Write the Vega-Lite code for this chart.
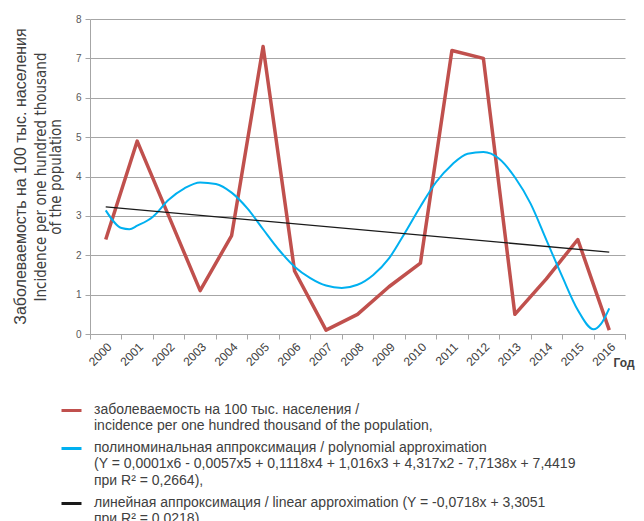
{
  "$schema": "https://vega.github.io/schema/vega-lite/v6.json",
  "width": 535,
  "height": 315,
  "autosize": {"type": "none"},
  "padding": {"left": 90, "top": 19, "right": 19, "bottom": 187},
  "background": "white",
  "title": {
    "text": "Заболеваемость на 100 тыс. населения",
    "orient": "left",
    "anchor": "middle",
    "font": "Liberation Sans",
    "fontSize": 16,
    "fontWeight": "normal",
    "color": "#404040",
    "offset": 4
  },
  "config": {
    "view": {"stroke": null},
    "axis": {"labelFont": "Liberation Sans", "titleFont": "Liberation Sans"}
  },
  "datasets": {
    "incidence": [
      {"year": "2000", "value": 2.4, "series": "incidence"},
      {"year": "2001", "value": 4.9, "series": "incidence"},
      {"year": "2002", "value": 3.0, "series": "incidence"},
      {"year": "2003", "value": 1.1, "series": "incidence"},
      {"year": "2004", "value": 2.5, "series": "incidence"},
      {"year": "2005", "value": 7.3, "series": "incidence"},
      {"year": "2006", "value": 1.6, "series": "incidence"},
      {"year": "2007", "value": 0.1, "series": "incidence"},
      {"year": "2008", "value": 0.5, "series": "incidence"},
      {"year": "2009", "value": 1.2, "series": "incidence"},
      {"year": "2010", "value": 1.8, "series": "incidence"},
      {"year": "2011", "value": 7.2, "series": "incidence"},
      {"year": "2012", "value": 7.0, "series": "incidence"},
      {"year": "2013", "value": 0.5, "series": "incidence"},
      {"year": "2014", "value": 1.4, "series": "incidence"},
      {"year": "2015", "value": 2.4, "series": "incidence"},
      {"year": "2016", "value": 0.1, "series": "incidence"}
    ],
    "poly": [
      {"t": 2000, "value": 3.14, "series": "polynomial"},
      {"t": 2000.5, "value": 2.69, "series": "polynomial"},
      {"t": 2000.75, "value": 2.66, "series": "polynomial"},
      {"t": 2001, "value": 2.75, "series": "polynomial"},
      {"t": 2001.5, "value": 2.98, "series": "polynomial"},
      {"t": 2002, "value": 3.41, "series": "polynomial"},
      {"t": 2002.5, "value": 3.7, "series": "polynomial"},
      {"t": 2003, "value": 3.85, "series": "polynomial"},
      {"t": 2003.5, "value": 3.81, "series": "polynomial"},
      {"t": 2004, "value": 3.59, "series": "polynomial"},
      {"t": 2004.5, "value": 3.19, "series": "polynomial"},
      {"t": 2005, "value": 2.66, "series": "polynomial"},
      {"t": 2005.5, "value": 2.14, "series": "polynomial"},
      {"t": 2006, "value": 1.71, "series": "polynomial"},
      {"t": 2006.5, "value": 1.42, "series": "polynomial"},
      {"t": 2007, "value": 1.23, "series": "polynomial"},
      {"t": 2007.5, "value": 1.17, "series": "polynomial"},
      {"t": 2008, "value": 1.25, "series": "polynomial"},
      {"t": 2008.5, "value": 1.5, "series": "polynomial"},
      {"t": 2009, "value": 1.92, "series": "polynomial"},
      {"t": 2009.5, "value": 2.56, "series": "polynomial"},
      {"t": 2010, "value": 3.24, "series": "polynomial"},
      {"t": 2010.5, "value": 3.86, "series": "polynomial"},
      {"t": 2011, "value": 4.3, "series": "polynomial"},
      {"t": 2011.5, "value": 4.58, "series": "polynomial"},
      {"t": 2012, "value": 4.62, "series": "polynomial"},
      {"t": 2012.5, "value": 4.45, "series": "polynomial"},
      {"t": 2013, "value": 3.98, "series": "polynomial"},
      {"t": 2013.5, "value": 3.31, "series": "polynomial"},
      {"t": 2014, "value": 2.39, "series": "polynomial"},
      {"t": 2014.5, "value": 1.47, "series": "polynomial"},
      {"t": 2015, "value": 0.61, "series": "polynomial"},
      {"t": 2015.5, "value": 0.12, "series": "polynomial"},
      {"t": 2015.75, "value": 0.27, "series": "polynomial"},
      {"t": 2016, "value": 0.65, "series": "polynomial"}
    ],
    "linear": [
      {"t": 2000, "value": 3.23, "series": "linear"},
      {"t": 2016, "value": 2.08, "series": "linear"}
    ]
  },
  "encoding": {
    "y": {
      "field": "value",
      "type": "quantitative",
      "scale": {"domain": [0, 8], "nice": false},
      "axis": {
        "values": [0, 1, 2, 3, 4, 5, 6, 7, 8],
        "labelOverlap": false,
        "title": ["Incidence per one hundred thousand", "of the population"],
        "titleFont": "Liberation Sans Narrow, Arial Narrow, DejaVu Sans Condensed, Liberation Sans",
        "titleFontSize": 15,
        "titleFontWeight": "normal",
        "titleColor": "#404040",
        "titleLineHeight": 15,
        "titlePadding": 12,
        "grid": true,
        "gridColor": "#A6A6A6",
        "domainColor": "#A6A6A6",
        "tickColor": "#A6A6A6",
        "tickSize": 5,
        "labelFontSize": 10,
        "labelColor": "#595959",
        "labelPadding": 4
      }
    },
    "color": {
      "field": "series",
      "type": "nominal",
      "scale": {
        "domain": ["incidence", "polynomial", "linear"],
        "range": ["#C0504D", "#00B0F0", "#1A1A1A"]
      },
      "legend": {
        "orient": "none",
        "legendX": -30,
        "legendY": 380,
        "direction": "vertical",
        "title": null,
        "symbolType": "stroke",
        "symbolSize": 400,
        "symbolStrokeWidth": 3,
        "labelFont": "Liberation Sans",
        "labelFontSize": 14,
        "labelColor": "#404040",
        "labelLimit": 800,
        "labelOffset": 11,
        "labelBaseline": "top",
        "rowPadding": 4,
        "padding": 0,
        "labelExpr": "datum.label == 'incidence' ? ['заболеваемость на 100 тыс. населения /', 'incidence per one hundred thousand of the population,'] : datum.label == 'polynomial' ? ['полиноминальная аппроксимация / polynomial approximation', '(Y = 0,0001x6 - 0,0057x5 + 0,1118x4 + 1,016x3 + 4,317x2 - 7,7138x + 7,4419', 'при R² = 0,2664),'] : ['линейная аппроксимация / linear approximation (Y = -0,0718x + 3,3051', 'при R² = 0,0218)']",
        "encode": {
          "labels": {"update": {"dy": {"value": -8}, "lineHeight": {"value": 16.5}}}
        }
      }
    }
  },
  "layer": [
    {
      "data": {"name": "incidence"},
      "mark": {"type": "line", "strokeWidth": 3.5, "strokeJoin": "round"},
      "encoding": {
        "x": {
          "field": "year",
          "type": "ordinal",
          "bandPosition": 0.5,
          "scale": {"type": "band", "paddingInner": 0, "paddingOuter": 0},
          "axis": {
            "title": "Год",
            "titleFontWeight": "bold",
            "titleFontSize": 12,
            "titleColor": "#404040",
            "titleAngle": 0,
            "titleAlign": "left",
            "titleBaseline": "middle",
            "titleX": 523,
            "titleY": 28,
            "tickBand": "extent",
            "domainColor": "#A6A6A6",
            "tickColor": "#A6A6A6",
            "tickSize": 5,
            "labelAngle": -45,
            "labelAlign": "right",
            "labelBaseline": "top",
            "labelFontSize": 12,
            "labelColor": "#404040",
            "labelPadding": 2,
            "grid": false
          }
        }
      }
    },
    {
      "data": {"name": "poly"},
      "mark": {"type": "line", "strokeWidth": 2, "interpolate": "monotone"},
      "encoding": {
        "x": {"field": "t", "type": "quantitative", "scale": {"domain": [1999.5, 2016.5], "nice": false, "zero": false}, "axis": null}
      }
    },
    {
      "data": {"name": "linear"},
      "mark": {"type": "line", "strokeWidth": 1.3},
      "encoding": {
        "x": {"field": "t", "type": "quantitative", "scale": {"domain": [1999.5, 2016.5], "nice": false, "zero": false}, "axis": null}
      }
    }
  ],
  "resolve": {"scale": {"x": "independent"}}
}
